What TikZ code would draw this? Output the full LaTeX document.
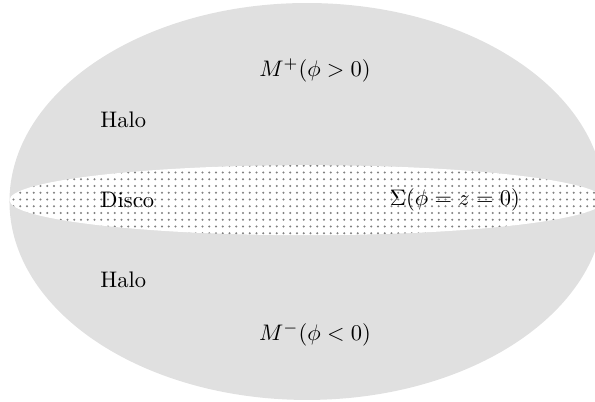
\documentclass[tikz,border=0pt]{standalone}
\usetikzlibrary{positioning,shapes.geometric,patterns}
\definecolor{halogray}{RGB}{224,224,224}

\begin{document}
\begin{tikzpicture}
\clip (-4.795,-3.132) rectangle (4.499,3.147);
\node[ellipse,fill=halogray,inner sep=0pt,
  minimum width=9.294cm,minimum height=6.2cm] (halo) at (0,0) {};
\node[ellipse,preaction={fill=white},pattern=dots,pattern color=gray,inner sep=0pt,
  minimum width=9.294cm,minimum height=1.094cm] (disc) at (0,0.02) {};
\node (mplus) at (0.125,2.05) {$M^+(\phi>0)$};
\node (mminus) at (0.125,-2.08) {$M^-(\phi<0)$};
\node[anchor=west] (halotop) at (-3.35,1.28) {Halo};
\node[anchor=west] (disco) at (-3.35,0.02) {Disco};
\node[anchor=west] (halobot) at (-3.35,-1.226) {Halo};
\node (sigma) at (2.31,0.02) {$\Sigma(\phi=z=0)$};
\end{tikzpicture}
\end{document}
